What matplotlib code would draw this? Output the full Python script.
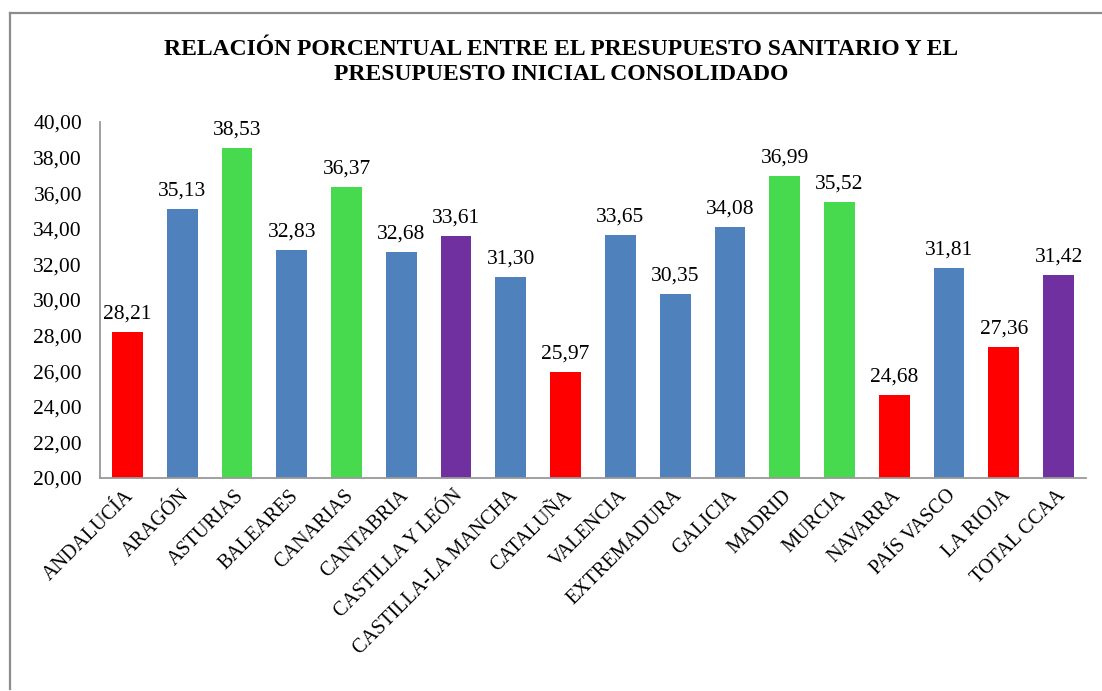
import numpy as np
import matplotlib.pyplot as plt
import matplotlib.transforms as mtransforms
from matplotlib.lines import Line2D

# datos
regiones = ['ANDALUCÍA', 'ARAGÓN', 'ASTURIAS', 'BALEARES', 'CANARIAS', 'CANTABRIA',
            'CASTILLA Y LEÓN', 'CASTILLA-LA MANCHA', 'CATALUÑA', 'VALENCIA', 'EXTREMADURA',
            'GALICIA', 'MADRID', 'MURCIA', 'NAVARRA', 'PAÍS VASCO', 'LA RIOJA', 'TOTAL CCAA']
porcentaje = [28.21, 35.13, 38.53, 32.83, 36.37, 32.68, 33.61, 31.30, 25.97, 33.65,
              30.35, 34.08, 36.99, 35.52, 24.68, 31.81, 27.36, 31.42]
grupo = ['bajo', 'medio', 'alto', 'medio', 'alto', 'medio', 'total', 'medio', 'bajo', 'medio',
         'medio', 'medio', 'alto', 'alto', 'bajo', 'medio', 'bajo', 'total']
colores_grupo = {'bajo': '#FF0000', 'medio': '#4F81BD', 'alto': '#48DA4E', 'total': '#7030A0'}

plt.rcParams['font.family'] = ['Liberation Serif', 'DejaVu Serif']

fig = plt.figure(figsize=(11.02, 6.91), dpi=100)
ax = fig.add_axes([100 / 1102, 1 - 478 / 691, 986 / 1102, 356 / 691])

x = np.arange(len(regiones))
colores = [colores_grupo[g] for g in grupo]
ax.bar(x, np.array(porcentaje) - 20, bottom=20, width=0.56, color=colores)

for xi, v in zip(x, porcentaje):
    ax.annotate(f'{v:.2f}'.replace('.', ','), (xi, v), xytext=(0, 6),
                textcoords='offset points', ha='center', va='bottom', fontsize=15.5)

ax.set_ylim(20, 40)
ax.set_xlim(-0.5, len(regiones) - 0.5)
ax.set_yticks(np.arange(20, 41, 2))
ax.set_yticklabels([f'{t:.2f}'.replace('.', ',') for t in np.arange(20, 41, 2)], fontsize=15.5)
ax.tick_params(axis='y', length=0, pad=13)
ax.tick_params(axis='x', length=0, pad=6)
ax.set_xticks(x)
ax.set_xticklabels(regiones, rotation=45, ha='right', rotation_mode='anchor', fontsize=14.5)
desplaza = mtransforms.ScaledTranslation(-2 / 72, 0, fig.dpi_scale_trans)
for lbl in ax.get_xticklabels():
    lbl.set_transform(lbl.get_transform() + desplaza)

for s in ['top', 'right']:
    ax.spines[s].set_visible(False)
for s in ['left', 'bottom']:
    ax.spines[s].set_color('#999999')
    ax.spines[s].set_linewidth(1.3)

fig.text(0.509, 1 - 62 / 691,
         'RELACIÓN PORCENTUAL ENTRE EL PRESUPUESTO SANITARIO Y EL\nPRESUPUESTO INICIAL CONSOLIDADO',
         ha='center', va='center', fontsize=17, fontweight='bold', linespacing=1.3)

# marco del grafico
fig.add_artist(Line2D([10 / 1102, 10 / 1102], [0.003, 1 - 13 / 691], color='#8c8c8c', lw=1.6))
fig.add_artist(Line2D([10 / 1102, 1.0], [1 - 13 / 691, 1 - 13 / 691], color='#8c8c8c', lw=1.6))

fig.savefig('out.png', dpi=100)
